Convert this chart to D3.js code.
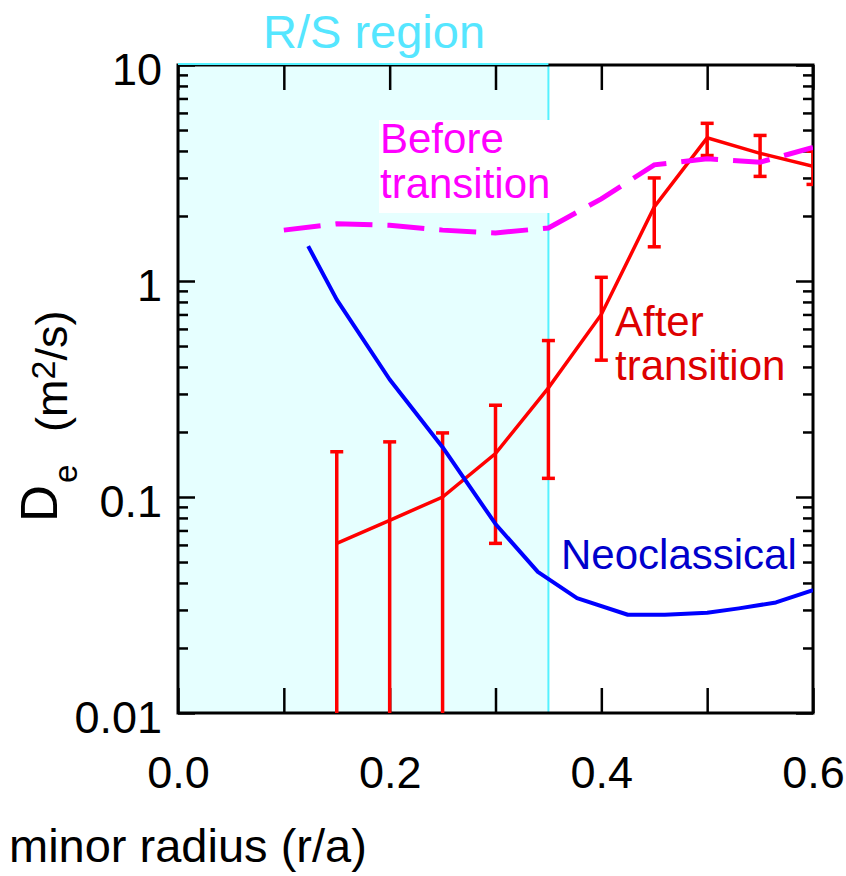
<!DOCTYPE html>
<html>
<head>
<meta charset="utf-8">
<script src="https://cdn.jsdelivr.net/npm/d3@7"></script>
<style>
  html, body { margin: 0; padding: 0; background: #fff; }
  svg { display: block; font-family: "Liberation Sans", Arial, sans-serif; }
</style>
</head>
<body>
<svg id="chart" width="846" height="876"></svg>
<script>
// Electron diffusivity profiles vs normalized minor radius

// After transition: measured points with error bars
const afterX     = [0.15, 0.20, 0.25, 0.30, 0.35, 0.40, 0.45, 0.50, 0.55, 0.60];
const afterY     = [0.061, 0.078, 0.100, 0.159, 0.32, 0.70, 2.2, 4.6, 3.9, 3.4];
const afterUpper = [0.162, 0.180, 0.198, 0.266, 0.53, 1.04, 3.0, 5.37, 4.72, 3.99];
const afterLower = [0.01, 0.01, 0.01, 0.061, 0.122, 0.43, 1.44, 3.81, 3.05, 2.8];

// Before transition (dashed)
const beforeX = [0.10, 0.15, 0.20, 0.25, 0.30, 0.35, 0.40, 0.45, 0.50, 0.55, 0.60];
const beforeY = [1.72, 1.84, 1.81, 1.72, 1.67, 1.76, 2.4, 3.45, 3.68, 3.55, 4.15];

// Neoclassical prediction
const neoX = [0.123, 0.15, 0.20, 0.25, 0.30, 0.34, 0.377, 0.425, 0.46, 0.50, 0.53, 0.565, 0.60];
const neoY = [1.45, 0.82, 0.35, 0.17, 0.075, 0.045, 0.034, 0.0285, 0.0285, 0.0291, 0.0305, 0.0325, 0.037];

// Reconnection/sawtooth region extent
const rsRegion = [0.0, 0.35];

// Axis ticks
const xTicks = [0, 0.1, 0.2, 0.3, 0.4, 0.5, 0.6];
const xLabelTicks = [0, 0.2, 0.4, 0.6];
const yMajor = [0.01, 0.1, 1, 10];
const yLabels = ["0.01", "0.1", "1", "10"];
const yMinor = [];
[0.01, 0.1, 1].forEach(d => { for (let k = 2; k <= 9; k++) yMinor.push(+(d * k).toPrecision(3)); });

const svg = d3.select("#chart");
const L = 178, R = 813, T = 65, B = 713;

const x = d3.scaleLinear().domain([0, 0.6]).range([L, R]);
const y = d3.scaleLog().domain([0.01, 10]).range([B, T]);

svg.append("defs").append("clipPath").attr("id", "plot")
  .append("rect").attr("x", L).attr("y", T).attr("width", R - L).attr("height", B - T);

// shaded region
svg.append("rect")
  .attr("x", x(rsRegion[0])).attr("y", T)
  .attr("width", x(rsRegion[1]) - x(rsRegion[0])).attr("height", B - T)
  .attr("fill", "#e6ffff");
svg.append("line")
  .attr("x1", x(rsRegion[1])).attr("x2", x(rsRegion[1]))
  .attr("y1", T).attr("y2", B)
  .attr("stroke", "#55f2ff").attr("stroke-width", 2);

// axes (ticks pointing inward)
const fmtX = d => xLabelTicks.some(t => Math.abs(t - d) < 1e-9) ? d.toFixed(1) : "";
const gB = svg.append("g").attr("transform", `translate(0,${B})`)
  .call(d3.axisBottom(x).tickValues(xTicks).tickSize(-25).tickPadding(43).tickFormat(fmtX));
svg.append("g").attr("transform", `translate(0,${T})`)
  .call(d3.axisTop(x).tickValues(xTicks).tickSize(-25).tickFormat(""));

const gL = svg.append("g").attr("transform", `translate(${L},0)`)
  .call(d3.axisLeft(y).tickValues(yMajor).tickSize(-17).tickPadding(16)
    .tickFormat((d, i) => yLabels[i]));
svg.append("g").attr("transform", `translate(${L},0)`)
  .call(d3.axisLeft(y).tickValues(yMinor).tickSize(-10).tickFormat(""));
svg.append("g").attr("transform", `translate(${R},0)`)
  .call(d3.axisRight(y).tickValues(yMajor).tickSize(-17).tickFormat(""));
svg.append("g").attr("transform", `translate(${R},0)`)
  .call(d3.axisRight(y).tickValues(yMinor).tickSize(-10).tickFormat(""));

svg.selectAll(".domain").remove();
svg.selectAll(".tick line").attr("stroke", "#000").attr("stroke-width", 2.5);
svg.selectAll(".tick text").attr("fill", "#000").attr("font-size", 45)
  .attr("font-family", "'Liberation Sans', Arial, sans-serif");
gL.selectAll(".tick text").attr("dy", "0.43em");

// frame
svg.append("rect").attr("x", L).attr("y", T).attr("width", R - L).attr("height", B - T)
  .attr("fill", "none").attr("stroke", "#000").attr("stroke-width", 3);
svg.append("line")
  .attr("x1", x(rsRegion[0])).attr("x2", x(rsRegion[1]))
  .attr("y1", T - 1).attr("y2", T - 1)
  .attr("stroke", "#55f2ff").attr("stroke-width", 2);

// label box for the dashed curve
svg.append("rect").attr("x", 379).attr("y", 120).attr("width", 171).attr("height", 93)
  .attr("fill", "#fff");

const plot = svg.append("g").attr("clip-path", "url(#plot)");

// after transition: line + error bars
const afterData = afterX.map((d, i) => ({ x: d, y: afterY[i], hi: afterUpper[i], lo: afterLower[i] }));
plot.append("path").datum(afterData)
  .attr("fill", "none").attr("stroke", "#ff0000").attr("stroke-width", 3.5)
  .attr("d", d3.line().x(d => x(d.x)).y(d => y(d.y)));
const eb = plot.append("g").attr("stroke", "#ff0000").attr("stroke-width", 3.5);
afterData.forEach(d => {
  const lo = d.lo > 0.01 ? y(d.lo) : B + 5;
  eb.append("line").attr("x1", x(d.x)).attr("x2", x(d.x)).attr("y1", y(d.hi)).attr("y2", lo);
  eb.append("line").attr("x1", x(d.x) - 6.5).attr("x2", x(d.x) + 6.5).attr("y1", y(d.hi)).attr("y2", y(d.hi));
  if (d.lo > 0.01)
    eb.append("line").attr("x1", x(d.x) - 6.5).attr("x2", x(d.x) + 6.5).attr("y1", lo).attr("y2", lo);
});

// neoclassical
plot.append("path").datum(neoX.map((d, i) => [d, neoY[i]]))
  .attr("fill", "none").attr("stroke", "#0000ff").attr("stroke-width", 4)
  .attr("stroke-linejoin", "round")
  .attr("d", d3.line().x(d => x(d[0])).y(d => y(d[1])));

// before transition
plot.append("path").datum(beforeX.map((d, i) => [d, beforeY[i]]))
  .attr("fill", "none").attr("stroke", "#ff00ff").attr("stroke-width", 5)
  .attr("stroke-dasharray", "37,15")
  .attr("d", d3.line().x(d => x(d[0])).y(d => y(d[1])));

// annotations
svg.append("text").attr("x", 263).attr("y", 48).attr("font-size", 47)
  .attr("fill", "#55e6ff").text("R/S region");

const before = svg.append("text").attr("font-size", 42).attr("fill", "#ff00ff");
before.append("tspan").attr("x", 380).attr("y", 153).text("Before");
before.append("tspan").attr("x", 380).attr("y", 198).text("transition");

const after = svg.append("text").attr("font-size", 42).attr("fill", "#dd0000");
after.append("tspan").attr("x", 615).attr("y", 336).text("After");
after.append("tspan").attr("x", 615).attr("y", 380).text("transition");

svg.append("text").attr("x", 561).attr("y", 569).attr("font-size", 42)
  .attr("fill", "#0000cc").text("Neoclassical");

// axis titles
svg.append("text").attr("x", 9).attr("y", 862).attr("font-size", 47)
  .attr("fill", "#000").text("minor radius (r/a)");

svg.append("text").attr("transform", "translate(57,522) rotate(-90)")
  .attr("font-size", 51).attr("fill", "#000").text("D");
svg.append("text").attr("transform", "translate(77,483) rotate(-90)")
  .attr("font-size", 33).attr("fill", "#000").text("e");
const unit = svg.append("text").attr("transform", "translate(67,432) rotate(-90)")
  .attr("font-size", 45).attr("fill", "#000");
unit.append("tspan").text("(m");
unit.append("tspan").attr("font-size", 34).attr("dy", -12).text("2");
unit.append("tspan").attr("dy", 12).text("/s)");
</script>
</body>
</html>
